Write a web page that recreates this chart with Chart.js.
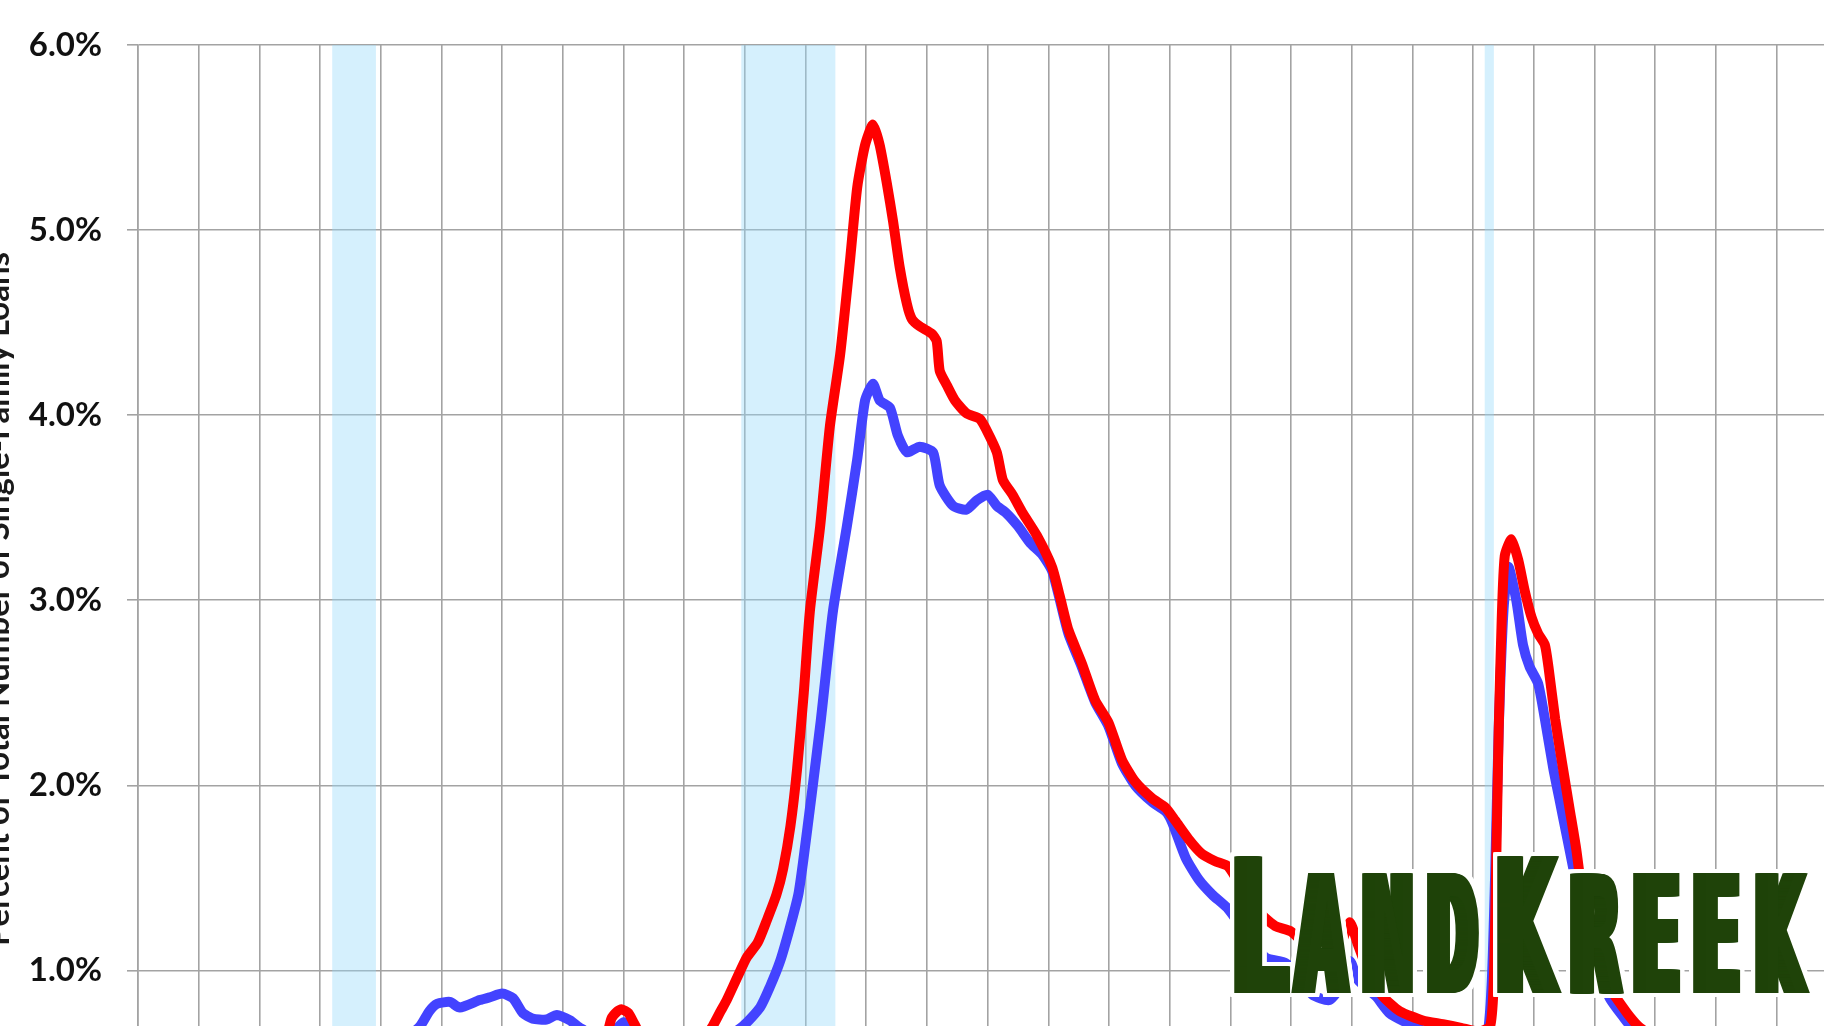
<!DOCTYPE html>
<html>
<head>
<meta charset="utf-8">
<script src="https://cdn.jsdelivr.net/npm/chart.js@4.4.1/dist/chart.umd.min.js"></script>
<style>
  html, body { margin: 0; padding: 0; background: #fff; overflow: hidden; }
  #wrap { position: relative; width: 1824px; height: 1026px; }
</style>
</head>
<body>
<div id="wrap"><canvas id="c" width="1824" height="1026"></canvas></div>
<script>
// red series (decimal years)
const redYears = [1998.0, 1999.0, 2000.0, 2001.0, 2002.0, 2003.0, 2004.0, 2005.0, 2005.6, 2005.72, 2005.8, 2005.9, 2005.97, 2006.08, 2006.18, 2006.35, 2007.0, 2007.3, 2007.47, 2007.6, 2007.7, 2007.87, 2008.03, 2008.21, 2008.36, 2008.52, 2008.63, 2008.75, 2008.86, 2008.97, 2009.07, 2009.24, 2009.40, 2009.57, 2009.73, 2009.85, 2009.98, 2010.11, 2010.22, 2010.34, 2010.44, 2010.55, 2010.67, 2010.75, 2010.88, 2011.08, 2011.16, 2011.21, 2011.33, 2011.46, 2011.65, 2011.87, 2011.98, 2012.15, 2012.25, 2012.41, 2012.58, 2012.81, 2013.06, 2013.19, 2013.33, 2013.55, 2013.77, 2013.99, 2014.21, 2014.43, 2014.71, 2014.93, 2015.09, 2015.31, 2015.53, 2015.75, 2015.97, 2016.25, 2016.52, 2016.74, 2017.00, 2017.30, 2017.60, 2017.85, 2017.97, 2018.10, 2018.30, 2018.51, 2018.79, 2019.17, 2019.50, 2019.80, 2020.10, 2020.28, 2020.34, 2020.38, 2020.42, 2020.47, 2020.52, 2020.63, 2020.74, 2020.85, 2020.96, 2021.07, 2021.18, 2021.24, 2021.35, 2021.46, 2021.59, 2021.70, 2021.81, 2021.87, 2022.00, 2022.15, 2022.36, 2022.58, 2022.75, 2023.20, 2024.00, 2025.00, 2025.78];
const redValues = [0.52, 0.50, 0.48, 0.50, 0.56, 0.60, 0.62, 0.58, 0.57, 0.64, 0.74, 0.78, 0.79, 0.77, 0.71, 0.62, 0.56, 0.62, 0.70, 0.78, 0.84, 0.96, 1.07, 1.15, 1.27, 1.41, 1.55, 1.78, 2.09, 2.50, 2.94, 3.40, 3.94, 4.33, 4.83, 5.23, 5.46, 5.57, 5.46, 5.25, 5.05, 4.80, 4.60, 4.52, 4.48, 4.44, 4.40, 4.24, 4.16, 4.08, 4.01, 3.98, 3.92, 3.80, 3.65, 3.57, 3.47, 3.35, 3.18, 3.02, 2.84, 2.66, 2.46, 2.34, 2.14, 2.02, 1.93, 1.88, 1.81, 1.71, 1.63, 1.59, 1.56, 1.41, 1.30, 1.24, 1.21, 1.12, 1.06, 1.17, 1.26, 1.14, 0.97, 0.86, 0.78, 0.73, 0.71, 0.69, 0.67, 0.70, 0.95, 1.60, 2.30, 2.90, 3.24, 3.33, 3.22, 3.05, 2.91, 2.82, 2.76, 2.64, 2.36, 2.13, 1.87, 1.65, 1.36, 1.18, 1.05, 0.95, 0.85, 0.75, 0.69, 0.60, 0.56, 0.55, 0.55];

// blue series
const blueYears = [1998.0, 1999.0, 2000.0, 2001.0, 2002.0, 2002.4, 2002.65, 2002.8, 2002.93, 2003.14, 2003.30, 2003.63, 2003.80, 2004.00, 2004.18, 2004.34, 2004.50, 2004.73, 2004.90, 2005.12, 2005.28, 2005.60, 2005.90, 2006.00, 2006.15, 2006.50, 2007.00, 2007.60, 2007.97, 2008.25, 2008.41, 2008.58, 2008.74, 2008.88, 2008.96, 2009.10, 2009.25, 2009.45, 2009.68, 2009.85, 2009.98, 2010.11, 2010.22, 2010.39, 2010.52, 2010.67, 2010.88, 2011.10, 2011.21, 2011.43, 2011.65, 2011.82, 2012.00, 2012.15, 2012.31, 2012.50, 2012.70, 2012.89, 2013.06, 2013.19, 2013.33, 2013.55, 2013.77, 2013.99, 2014.21, 2014.43, 2014.71, 2014.93, 2015.04, 2015.26, 2015.48, 2015.70, 2015.97, 2016.30, 2016.58, 2016.91, 2017.10, 2017.35, 2017.63, 2017.85, 2017.97, 2018.10, 2018.40, 2018.62, 2018.95, 2019.30, 2019.80, 2020.20, 2020.30, 2020.36, 2020.42, 2020.50, 2020.58, 2020.71, 2020.82, 2020.93, 2021.07, 2021.18, 2021.32, 2021.43, 2021.54, 2021.65, 2021.80, 2022.00, 2022.25, 2022.47, 2022.65, 2023.20, 2024.00, 2025.00, 2025.78];
const blueValues = [0.42, 0.42, 0.45, 0.50, 0.57, 0.63, 0.70, 0.78, 0.82, 0.83, 0.80, 0.84, 0.855, 0.875, 0.85, 0.77, 0.74, 0.735, 0.76, 0.73, 0.69, 0.64, 0.69, 0.72, 0.69, 0.62, 0.58, 0.62, 0.70, 0.80, 0.91, 1.05, 1.23, 1.41, 1.59, 1.95, 2.35, 2.94, 3.40, 3.76, 4.08, 4.17, 4.08, 4.04, 3.89, 3.80, 3.83, 3.80, 3.62, 3.51, 3.49, 3.54, 3.57, 3.51, 3.47, 3.40, 3.31, 3.25, 3.16, 3.00, 2.82, 2.64, 2.45, 2.32, 2.12, 2.00, 1.91, 1.86, 1.80, 1.61, 1.49, 1.41, 1.33, 1.18, 1.07, 1.04, 0.98, 0.87, 0.84, 0.93, 1.05, 0.95, 0.86, 0.77, 0.71, 0.66, 0.63, 0.62, 0.90, 1.50, 2.30, 2.95, 3.18, 3.00, 2.76, 2.64, 2.55, 2.36, 2.09, 1.91, 1.73, 1.55, 1.30, 1.05, 0.85, 0.75, 0.68, 0.58, 0.53, 0.52, 0.52];

// recessions (shaded)
const recessionStart = [2001.20, 2007.94, 2020.19];
const recessionEnd = [2001.92, 2009.49, 2020.34];

// ticks
const yTicks = [1, 2, 3, 4, 5, 6];
const xGridYears = [1998, 1999, 2000, 2001, 2002, 2003, 2004, 2005, 2006, 2007, 2008, 2009, 2010, 2011, 2012, 2013, 2014, 2015, 2016, 2017, 2018, 2019, 2020, 2021, 2022, 2023, 2024, 2025];

const axisTitle = 'Percent of Total Number of Single-Family Loans';
const brandLetters = ['L', 'A', 'N', 'D', 'K', 'R', 'E', 'E', 'K'];
const brandTall = [true, false, false, false, true, false, false, false, false];

// watermark layout (pixels)
const brandBoxes = [[1234, 1290], [1291, 1351], [1362, 1413], [1427, 1479], [1497, 1562], [1570, 1624], [1633, 1680], [1693, 1740], [1755, 1810]];
const BRAND_TALL_TOP = 856, BRAND_SMALL_TOP = 873, BRAND_BASE = 993;
const BRAND_BOLD = 6;   // horizontal thickening, each side
const BRAND_EDGE = 4;   // white rim

const GRID = '#a3a3a3';

const toPoints = (xs, ys) => xs.map((x, i) => ({ x: x, y: ys[i] }));

const bandsPlugin = {
  id: 'bands',
  beforeDatasetsDraw(chart) {
    const { ctx, chartArea: a, scales: { x } } = chart;
    ctx.save();
    ctx.fillStyle = 'rgba(150, 218, 250, 0.4)';
    recessionStart.forEach((s, i) => {
      const x0 = x.getPixelForValue(s);
      const x1 = x.getPixelForValue(recessionEnd[i]);
      ctx.fillRect(x0, a.top, x1 - x0, a.bottom - a.top);
    });
    ctx.restore();
  }
};

function drawLetter(ctx, p, dx, dy) {
  ctx.save();
  ctx.translate(p.tx + dx, BRAND_BASE + dy);
  ctx.scale(p.sx, p.sy);
  ctx.fillText(p.ch, 0, 0);
  ctx.restore();
}

const overlayPlugin = {
  id: 'overlay',
  afterDraw(chart) {
    const ctx = chart.ctx;
    // y axis title, mostly cut off at the left edge
    ctx.save();
    ctx.translate(9, 599);
    ctx.rotate(-Math.PI / 2);
    ctx.font = 'bold 33px Lato';
    ctx.textAlign = 'center';
    ctx.textBaseline = 'alphabetic';
    ctx.fillStyle = '#1a1a1a';
    ctx.fillText(axisTitle, 0, 0);
    ctx.restore();

    // watermark
    ctx.save();
    ctx.font = 'bold 200px "DejaVu Sans"';
    ctx.textBaseline = 'alphabetic';
    ctx.textAlign = 'left';
    const placed = brandLetters.map((ch, i) => {
      const m = ctx.measureText(ch);
      const inkW = m.actualBoundingBoxLeft + m.actualBoundingBoxRight;
      const inkH = m.actualBoundingBoxAscent;
      const [x0, x1] = brandBoxes[i];
      const top = brandTall[i] ? BRAND_TALL_TOP : BRAND_SMALL_TOP;
      const sx = (x1 - x0 - 2 * BRAND_BOLD) / inkW;
      const sy = (BRAND_BASE - top) / inkH;
      return { ch, tx: x0 + BRAND_BOLD + m.actualBoundingBoxLeft * sx, sx, sy };
    });
    ctx.fillStyle = '#ffffff';
    placed.forEach(p => {
      for (let dx = -BRAND_BOLD - BRAND_EDGE; dx <= BRAND_BOLD + BRAND_EDGE; dx += 1) {
        for (let dy = -BRAND_EDGE; dy <= BRAND_EDGE; dy += 1) {
          drawLetter(ctx, p, dx, dy);
        }
      }
    });
    ctx.fillStyle = '#1f4309';
    placed.forEach(p => {
      for (let dx = -BRAND_BOLD; dx <= BRAND_BOLD; dx += 1) {
        drawLetter(ctx, p, dx, 0);
      }
    });
    ctx.restore();
  }
};

function draw() {
  new Chart(document.getElementById('c'), {
    type: 'line',
    data: {
      datasets: [
        {
          label: 'Red',
          data: toPoints(redYears, redValues),
          borderColor: '#ff0000',
          borderWidth: 10,
          pointRadius: 0,
          tension: 0.2,
          borderJoinStyle: 'round',
          borderCapStyle: 'round'
        },
        {
          label: 'Blue',
          data: toPoints(blueYears, blueValues),
          borderColor: '#4343ff',
          borderWidth: 10,
          pointRadius: 0,
          tension: 0.2,
          borderJoinStyle: 'round',
          borderCapStyle: 'round'
        }
      ]
    },
    options: {
      responsive: false,
      animation: false,
      devicePixelRatio: 1,
      layout: { padding: { top: 45, left: 0, right: 0, bottom: 0 } },
      plugins: { legend: { display: false }, tooltip: { enabled: false } },
      scales: {
        x: {
          type: 'linear',
          min: 1998,
          max: 2025.78,
          afterBuildTicks: s => { s.ticks = xGridYears.map(v => ({ value: v })); },
          afterFit: s => { s.height = 0; },
          ticks: { display: false },
          grid: { color: GRID, lineWidth: 1.6, drawTicks: false },
          border: { display: false }
        },
        y: {
          min: 0.7,
          max: 6,
          afterBuildTicks: s => { s.ticks = yTicks.map(v => ({ value: v })); },
          afterFit: s => { s.width = 138; s.paddingTop = 0; s.paddingBottom = 0; },
          ticks: {
            font: { family: 'Lato', weight: 'bold', size: 33 },
            color: '#111111',
            padding: 25,
            callback: v => v.toFixed(1) + '%'
          },
          grid: { color: GRID, lineWidth: 1.6, tickLength: 11 },
          border: { color: GRID, width: 1.6 }
        }
      }
    },
    plugins: [bandsPlugin, overlayPlugin]
  });
}

Promise.all([
  document.fonts.load('bold 33px Lato'),
  document.fonts.load('bold 200px "DejaVu Sans"')
]).then(draw, draw);
</script>
</body>
</html>
